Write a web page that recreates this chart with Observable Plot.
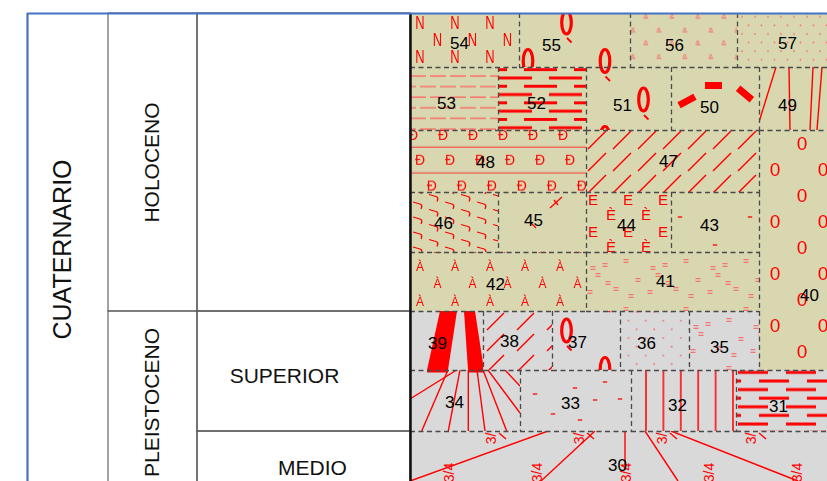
<!DOCTYPE html>
<html>
<head>
<meta charset="utf-8">
<script src="https://cdn.jsdelivr.net/npm/d3@7"></script>
<script src="https://cdn.jsdelivr.net/npm/@observablehq/plot@0.6"></script>
<style>
html,body{margin:0;padding:0;background:#fff;}
#chart svg{display:block;}
</style>
</head>
<body>
<div id="chart"></div>
<script>
// ================= DATA =================
// Stratigraphic table (left)
const periodLabels = ["CUATERNARIO"];
const periodLabelX = [62];
const periodLabelY = [249];

const epochLabels = ["HOLOCENO", "PLEISTOCENO"];
const epochTop = [13, 311];
const epochBottom = [311, 493];
const epochLabelX = [152, 152];
const epochLabelY = [162, 402];

const stageLabels = ["", "SUPERIOR", "MEDIO"];
const stageTop = [13, 311, 431];
const stageBottom = [311, 431, 493];
const stageLabelX = [304, 284, 312];
const stageLabelY = [162, 376, 468];

// column boundaries of the table: frame, epoch, stage, map
const colFrame = 27, colEpoch = 108, colStage = 197, colMap = 410;
const frameTop = 13, viewRight = 827, viewBottom = 481;

// Units of the map (right)
const cellIds    = [54, 55, 56, 57, 53, 52, 51, 50, 49, 48, 47, 40, 46, 45, 44, 43, 42, 41, 39, 38, 37, 36, 35, 34, 33, 32, 31, 30];
const cellLeft   = [410,519,630,737, 410,498,586,671,759, 410,586,759, 410,498,586,671, 410,586, 410,483,552,620,689, 410,520,631,736, 410];
const cellRight  = [519,630,737,835, 498,586,671,759,835, 586,759,835, 498,586,671,759, 586,759, 483,552,620,689,759, 520,631,736,835, 835];
const cellTop    = [13,13,13,13, 67,67,67,67,67, 130,130,130, 192,192,192,192, 252,252, 311,311,311,311,311, 370,370,370,370, 431];
const cellBottom = [67,67,67,67, 130,130,130,130,130, 192,192,370, 252,252,252,252, 311,311, 370,370,370,370,370, 431,431,431,431, 495];
const cellEpoch  = ["H","H","H","H","H","H","H","H","H","H","H","H","H","H","H","H","H","H","P","P","P","P","P","P","P","P","P","P"];
const labelX     = [459,551,674,787, 446,536,622,709,787, 485,668,809, 443,533,626,709, 495,665, 437,509,577,646,719, 454,570,677,778, 617];
const labelY     = [43,45,45,43, 103,103,105,107,105, 162,161,295, 223,220,225,225, 284,281, 343,341,342,343,347, 402,403,405,406, 465];

// Attitude labels in unit 30
const dipTopText = ["3/", "3/", "3/", "3/"];
const dipTopX = [491, 579, 662, 751];
const dipTopY = [438, 438, 438, 438];
const dipBotText = ["3/4", "3/4", "3/4", "3/4", "3/4"];
const dipBotX = [449, 537, 626, 709, 797];
const dipBotY = [472, 472, 472, 472, 472];

// ================= STYLES / TEXTURES =================
const KHAKI = "#d8d7b0", GRAY = "#d9d9d9", RED = "#ff0000", PINK = "#ff5a5a";
const FONT = "Liberation Sans, Arial, Helvetica, sans-serif";

const txt = (s, size, color = RED, sx = 1) => (x, y) =>
  `<text transform="translate(${x},${y}) scale(${sx},1)" font-size="${size}" fill="${color}" text-anchor="middle" dominant-baseline="central" font-family="${FONT}">${s}</text>`;
const seg = (x1, y1, x2, y2, w = 1.5, c = RED) => (x, y) =>
  `<line x1="${x + x1}" y1="${y + y1}" x2="${x + x2}" y2="${y + y2}" stroke="${c}" stroke-width="${w}"/>`;
const dot = (r, c) => (x, y) => `<circle cx="${x}" cy="${y}" r="${r}" fill="${c}"/>`;
const qGlyph = (x, y) =>
  `<ellipse cx="${x}" cy="${y}" rx="4.8" ry="11.5" fill="none" stroke="${RED}" stroke-width="3.2"/>` +
  `<line x1="${x + 0.5}" y1="${y + 15.5}" x2="${x + 5}" y2="${y + 20}" stroke="${RED}" stroke-width="1.8"/>`;
const eqGlyph = (x, y) => seg(-2.5, -1.3, 2.5, -1.3, 1, PINK)(x, y) + seg(-2.5, 1.3, 2.5, 1.3, 1, PINK)(x, y);
const hook = (x, y) => `<path d="M${x - 5},${y - 2} L${x + 2},${y} Q${x + 5},${y + 1} ${x + 3},${y + 5}" fill="none" stroke="${RED}" stroke-width="1.3"/>`;
const dash = seg(-2.2, 0, 2.2, 0, 1.3, RED);

function tiled(w, h, items) {
  let s = "";
  for (const [fn, x, y] of items)
    for (const dx of [-w, 0, w]) for (const dy of [-h, 0, h]) s += fn(x + dx, y + dy);
  return s;
}

const patterns = {
  N:    {ox: 410, oy: 14, w: 35, h: 34, body: tiled(35, 34, [[txt("N", 18, RED, 0.72), 10, 9], [txt("N", 18, RED, 0.72), 27.5, 26]])},
  Q:    {ox: 547, oy: 3, w: 77, h: 77, body: tiled(77, 77, [[qGlyph, 19.5, 19.5], [qGlyph, 58, 58]])},
  amp:  {ox: 627, oy: 8, w: 26, h: 26.6, body: tiled(26, 26.6, [[txt("&amp;", 8, PINK), 19, 8.7], [txt("&amp;", 8, PINK), 6, 22]])},
  dots57: {ox: 739, oy: 12.7, w: 13, h: 17.2, body: tiled(13, 17.2, [[dot(0.9, "#ff7070"), 3, 4], [dot(0.9, "#ff7070"), 9.5, 12.6]])},
  thin: {ox: 410, oy: 73, w: 20, h: 21.2, body: tiled(20, 21.2, [[seg(0, 3, 16, 3, 1.2, PINK), 0, 0], [seg(10, 13.6, 26, 13.6, 1.2, PINK), 0, 0]])},
  thick52: {ox: 499, oy: 76, w: 50, h: 16.6, body: tiled(50, 16.6, [[seg(0, 2, 33, 2, 3), 0, 0], [seg(25, 10.3, 58, 10.3, 3), 0, 0]])},
  p50:  {ox: 671, oy: 67, w: 88, h: 63, body:
    `<rect x="-9" y="-3.5" width="18" height="7" fill="${RED}" transform="translate(16,34) rotate(-28)"/>` +
    `<rect x="-8.5" y="-3.5" width="17" height="7" fill="${RED}" transform="translate(42.5,18.5)"/>` +
    `<rect x="-9" y="-3.5" width="18" height="7" fill="${RED}" transform="translate(74,27) rotate(40)"/>`},
  p49:  {ox: 759, oy: 67, w: 76, h: 63, body:
    seg(17, 0, 0, 55, 1.4)(0, 0) + seg(30, 0, 31, 63, 1.4)(0, 0) + seg(54, 0, 51, 63, 1.4)(0, 0) + seg(63, 0, 58, 63, 1.4)(0, 0)},
  D:    {ox: 400, oy: 125, w: 30, h: 76.5, body:
    tiled(30, 76.5, [[txt("Đ", 14), 13, 10], [txt("Đ", 14), 20, 35], [txt("Đ", 14), 31.7, 61]]) +
    seg(-5, 22, 40, 22, 1, "#ff3030")(0, 0) + seg(-5, 48, 40, 48, 1, "#ff3030")(0, 0)},
  hatch47: {ox: 586, oy: 130, w: 25, h: 22, body: tiled(25, 22, [[seg(2, 19, 20, 1, 1.4), 0, 0]])},
  hook: {ox: 410, oy: 200, w: 32, h: 15, body: tiled(32, 15, [[hook, 8, 4], [hook, 24, 11.5]])},
  p45:  {ox: 498, oy: 192, w: 88, h: 60, body: seg(52, 16, 64, 5, 1.3)(0, 0) + seg(56, 8, 60, 13, 1.3)(0, 0) + seg(33, 31, 38, 36, 1.3)(0, 0)},
  E:    {ox: 586, oy: 192, w: 35, h: 32, body: tiled(35, 32, [[txt("E", 15), 7, 7], [txt("È", 15), 25, 22]])},
  dash43: {ox: 671, oy: 192, w: 70, h: 56, body: tiled(70, 56, [[dash, 9, 25], [dash, 44, 53]])},
  A:    {ox: 410, oy: 252, w: 35, h: 35, body: tiled(35, 35, [[txt("À", 12), 10, 14.7], [txt("À", 12), 27.5, 32.2]])},
  eq41: {ox: 586, oy: 252, w: 60, h: 48, body: tiled(60, 48, [[eqGlyph, 7, 16], [eqGlyph, 19, 13], [eqGlyph, 12, 23], [eqGlyph, 40, 9], [eqGlyph, 52, 28], [eqGlyph, 30, 37], [eqGlyph, 45, 44], [eqGlyph, 4, 40], [eqGlyph, 22, 31]])},
  zero: {ox: 765, oy: 130, w: 48, h: 52, body: tiled(48, 52, [[txt("0", 19), 37, 13], [txt("0", 19), 10, 39]])},
  p39:  {ox: 410, oy: 311, w: 73, h: 59, body:
    `<path d="M30,0 L47,0 L38,59 L17,59 Z" fill="${RED}"/><path d="M54,0 L65,0 L74,59 L58,59 Z" fill="${RED}"/>`},
  hatch38: {ox: 483, oy: 311, w: 30, h: 21, body: tiled(30, 21, [[seg(4, 19, 21, 2, 1.4), 0, 0]])},
  dots36: {ox: 620, oy: 316, w: 17.5, h: 17.4, body: tiled(17.5, 17.4, [[dot(0.9, "#ff6060"), 8.3, 4.7], [dot(0.9, "#ff6060"), 16.7, 13.3]])},
  eq35: {ox: 689, oy: 311, w: 60, h: 48, body: tiled(60, 48, [[eqGlyph, 7, 16], [eqGlyph, 19, 13], [eqGlyph, 12, 23], [eqGlyph, 40, 9], [eqGlyph, 52, 28], [eqGlyph, 30, 37], [eqGlyph, 45, 44], [eqGlyph, 4, 40]])},
  p34:  {ox: 410, oy: 370, w: 110, h: 61, body:
    [[46.7, 0, 0, 29], [38, 0, 11.7, 61], [50, 0, 38.3, 61], [58.3, 0, 58.3, 61], [67, 0, 75, 61], [73, 0, 96.7, 61], [78, 0, 110, 43], [95, 0, 110, 16]]
      .map(([a, b, c, d]) => seg(a, b, c, d, 1.4)(0, 0)).join("") +
    `<rect x="17" y="0" width="21" height="2.5" fill="${RED}"/><rect x="58" y="0" width="16" height="2.5" fill="${RED}"/>`},
  p33:  {ox: 520, oy: 370, w: 111, h: 61, body:
    [[15, 24], [55, 18], [33, 44], [85, 12], [75, 30], [100, 29], [60, 50]].map(([x, y]) => dash(x, y)).join("")},
  vlines: {ox: 637.3, oy: 370, w: 17.4, h: 61, body: tiled(17.4, 61, [[seg(8.7, 0, 8.7, 61, 1.5), 0, 0]])},
  thick31: {ox: 737, oy: 370.4, w: 48, h: 17.2, body: tiled(48, 17.2, [[seg(1, 2, 31, 2, 3), 0, 0], [seg(22, 10.6, 52, 10.6, 3), 0, 0]])},
  p30:  {ox: 410, oy: 431, w: 425, h: 64, body:
    [[138, 0, 0, 50], [185, 0, 131, 50], [215, 0, 215, 39], [235, 0, 268, 50], [261, 0, 388, 50]]
      .map(([a, b, c, d]) => seg(a, b, c, d, 1.4)(0, 0)).join("") +
    [[89, 2, 96, 8], [177, 2, 184, 8], [260, 2, 267, 8], [349, 2, 356, 8]]
      .map(([a, b, c, d]) => seg(a, b, c, d, 1.4)(0, 0)).join("")}
};

const texture = {54: "N", 55: "Q", 56: "amp", 57: "dots57", 53: "thin", 52: "thick52", 51: "Q", 50: "p50", 49: "p49",
  48: "D", 47: "hatch47", 40: "zero", 46: "hook", 45: "p45", 44: "E", 43: "dash43", 42: "A", 41: "eq41",
  39: "p39", 38: "hatch38", 37: "Q", 36: "dots36", 35: "eq35", 34: "p34", 33: "p33", 32: "vlines", 31: "thick31", 30: "p30"};

// ================= BUILD =================
const cells = cellIds.map((id, i) => ({
  id, x1: cellLeft[i], x2: cellRight[i], y1: cellTop[i], y2: cellBottom[i],
  bg: cellEpoch[i] === "H" ? KHAKI : GRAY, pat: `url(#pat-${texture[id]})`,
  lx: labelX[i], ly: labelY[i]
}));
const epochs = epochLabels.map((t, i) => ({t, y1: epochTop[i], y2: epochBottom[i], lx: epochLabelX[i], ly: epochLabelY[i]}));
const stages = stageLabels.map((t, i) => ({t, y1: stageTop[i], y2: stageBottom[i], lx: stageLabelX[i], ly: stageLabelY[i]}));
const periods = periodLabels.map((t, i) => ({t, x: periodLabelX[i], y: periodLabelY[i]}));
const dipTop = dipTopText.map((t, i) => ({t, x: dipTopX[i], y: dipTopY[i]}));
const dipBot = dipBotText.map((t, i) => ({t, x: dipBotX[i], y: dipBotY[i]}));

const svg = Plot.plot({
  width: 827, height: 481, margin: 0,
  x: {domain: [0, 827], range: [0, 827], axis: null},
  y: {domain: [0, 481], range: [0, 481], axis: null},
  color: {type: "identity"},
  style: {background: "white", overflow: "hidden", fontFamily: FONT},
  marks: [
    // table
    Plot.rect(epochs, {x1: colEpoch, x2: colStage, y1: "y1", y2: "y2", fill: "none", stroke: "#666", strokeWidth: 1.2}),
    Plot.rect(stages, {x1: colStage, x2: colMap, y1: "y1", y2: "y2", fill: "none", stroke: "#555", strokeWidth: 1.2}),
    // map units
    Plot.rect(cells, {x1: "x1", x2: "x2", y1: "y1", y2: "y2", fill: "bg"}),
    Plot.rect(cells, {x1: "x1", x2: "x2", y1: "y1", y2: "y2", fill: "pat"}),
    Plot.ruleX(cells.filter(c => c.x2 < 830), {x: "x2", y1: "y1", y2: "y2", stroke: "#4a4a4a", strokeWidth: 1.3, strokeDasharray: "5,3.5"}),
    Plot.ruleY(cells.filter(c => c.y2 < 490), {y: "y2", x1: "x1", x2: "x2", stroke: "#4a4a4a", strokeWidth: 1.3, strokeDasharray: "5,3.5"}),
    // map left edge and blue frame
    Plot.ruleX([colMap], {y1: frameTop, y2: 495, stroke: "#111", strokeWidth: 2.5}),
    Plot.ruleY([frameTop], {x1: colFrame, x2: 835, stroke: "#4472c4", strokeWidth: 2.2}),
    Plot.ruleX([colFrame], {y1: frameTop, y2: 495, stroke: "#4472c4", strokeWidth: 2.2}),
    // texts
    Plot.text(periods, {x: "x", y: "y", text: "t", rotate: -90, fontSize: 25, fill: "#111"}),
    Plot.text(epochs, {x: "lx", y: "ly", text: "t", rotate: -90, fontSize: 21, fill: "#111"}),
    Plot.text(stages.filter(d => d.t), {x: "lx", y: "ly", text: "t", fontSize: 21, fill: "#111"}),
    Plot.text(dipTop, {x: "x", y: "y", text: "t", rotate: -90, fontSize: 14, fill: RED}),
    Plot.text(dipBot, {x: "x", y: "y", text: "t", rotate: -90, fontSize: 14, fill: RED}),
    Plot.text(cells, {x: "lx", y: "ly", text: d => String(d.id), fontSize: 17, fill: "#000"})
  ]
});

const X = svg.scale("x"), Y = svg.scale("y");
const defs = document.createElementNS("http://www.w3.org/2000/svg", "defs");
defs.innerHTML = Object.entries(patterns).map(([k, p]) =>
  `<pattern id="pat-${k}" patternUnits="userSpaceOnUse" x="${X.apply(p.ox)}" y="${Y.apply(p.oy)}" width="${p.w}" height="${p.h}">${p.body}</pattern>`
).join("");
svg.insertBefore(defs, svg.firstChild);
document.getElementById("chart").appendChild(svg);
</script>
</body>
</html>
